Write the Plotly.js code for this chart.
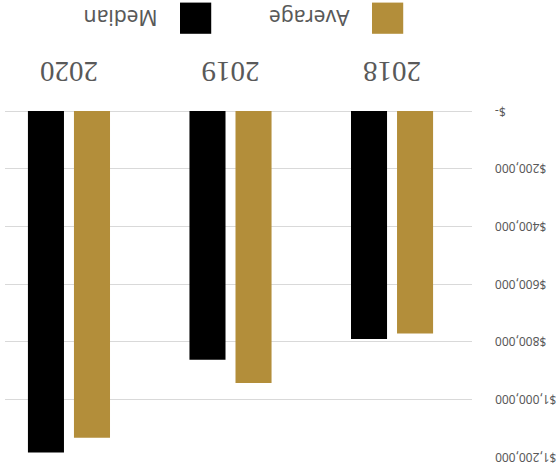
<!DOCTYPE html>
<html>
<head>
<meta charset="utf-8">
<script src="https://cdn.plot.ly/plotly-3.0.1.min.js"></script>
<style>
html,body{margin:0;padding:0;background:#fff;overflow:hidden;}
#wrap{width:560px;height:467px;transform:rotate(180deg);transform-origin:50% 50%;}
#chart{width:560px;height:467px;}
</style>
</head>
<body>
<div id="wrap"><div id="chart"></div></div>
<script>
const years = ["2018", "2019", "2020"];
const averageValues = [772000, 943000, 1133000];
const medianValues = [791000, 863000, 1184000];
const yTickValues = [0, 200000, 400000, 600000, 800000, 1000000, 1200000];
const yTickLabels = ["$-", "$200,000", "$400,000", "$600,000", "$800,000", "$1,000,000", "$1,200,000"];

const gold = "#B38E3A";
const black = "#000000";

const data = [
  {type: "bar", name: "Average", x: years, y: averageValues, marker: {color: gold}},
  {type: "bar", name: "Median", x: years, y: medianValues, marker: {color: black}}
];

const layout = {
  width: 560, height: 467,
  margin: {l: 88, r: 5, t: 10, b: 111, pad: 0, autoexpand: false},
  paper_bgcolor: "#fff", plot_bgcolor: "#fff",
  barmode: "group", bargap: 0.43, bargroupgap: 0.217,
  showlegend: true,
  legend: {
    orientation: "h", x: 0.14, xanchor: "left", y: -0.21, yanchor: "top",
    entrywidth: 130, itemwidth: 47, traceorder: "normal",
    font: {family: "Noto Sans, Liberation Sans, sans-serif", size: 21, color: "#595959"},
    bgcolor: "rgba(0,0,0,0)"
  },
  xaxis: {
    type: "category", range: [-0.495, 2.396], automargin: false,
    showgrid: false, zeroline: false, showline: false, ticks: "",
    ticklabelstandoff: 19,
    tickfont: {family: "Liberation Serif, serif", size: 29, color: "#595959"}
  },
  yaxis: {
    range: [0, 1200000], tickvals: yTickValues, ticktext: yTickLabels, automargin: false,
    showgrid: true, gridcolor: "#d9d9d9", gridwidth: 1,
    zeroline: true, zerolinecolor: "#d9d9d9", zerolinewidth: 1,
    showline: false, ticks: "", ticklabelstandoff: 22,
    tickfont: {family: "Noto Sans, Liberation Sans, sans-serif", size: 12, color: "#595959"}
  }
};

Plotly.newPlot("chart", data, layout, {staticPlot: true, displayModeBar: false}).then(function(gd){
  gd.querySelectorAll(".legend [clip-path]").forEach(function(el){ el.removeAttribute("clip-path"); });
  gd.querySelectorAll(".legendpoints path").forEach(function(p){
    p.setAttribute("transform", "translate(19,0) scale(2.6)");
    p.style.strokeWidth = "0";
  });
});
</script>
</body>
</html>
